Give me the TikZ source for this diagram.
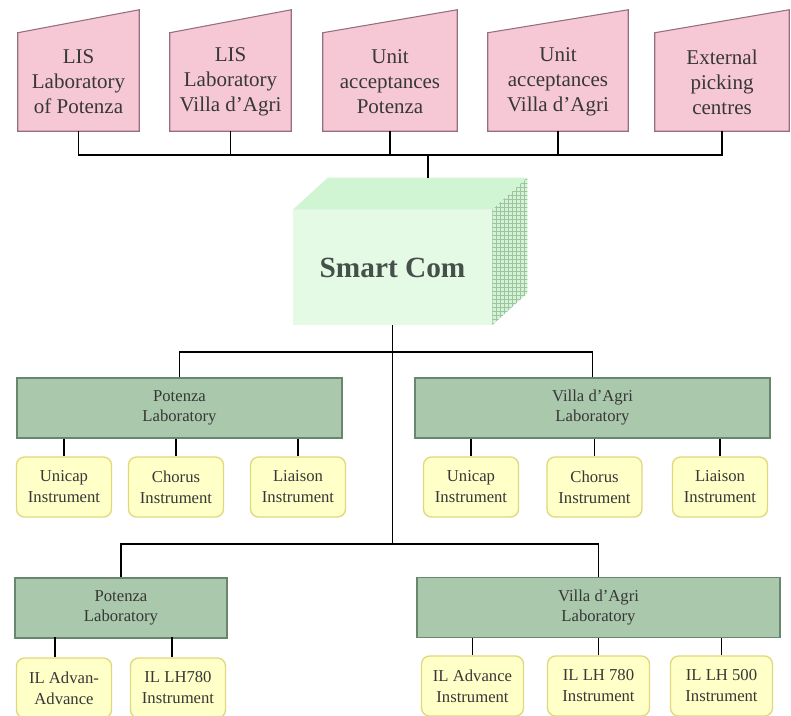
\documentclass[tikz,border=0pt]{standalone}
\usepackage{fontspec}
\setmainfont{Liberation Serif}
\usetikzlibrary{calc,backgrounds,patterns}

\definecolor{pinkfill}{RGB}{246,200,214}
\definecolor{pinkline}{RGB}{150,110,125}
\definecolor{labfill}{RGB}{170,200,172}
\definecolor{labline}{RGB}{105,135,110}
\definecolor{instrfill}{RGB}{255,255,200}
\definecolor{instrline}{RGB}{225,215,125}
\definecolor{cubefront}{RGB}{228,250,228}
\definecolor{cubetopc}{RGB}{208,245,210}
\definecolor{cubeside}{RGB}{215,240,215}
\definecolor{textgray}{RGB}{55,55,55}

\begin{document}
\begin{tikzpicture}[x=0.75pt,y=-0.75pt,
  source/.style={minimum width=90.75pt, minimum height=73.5pt, inner sep=0pt, align=center, text=textgray, font=\fontsize{15.75}{18.75}\selectfont},
  lab/.style={draw=labline, fill=labfill, line width=0.8pt, minimum height=45pt, inner sep=0pt, align=center, text=textgray, font=\fontsize{12.5}{15}\selectfont},
  instr/.style={draw=instrline, fill=instrfill, line width=1pt, rounded corners=6pt, minimum width=71.25pt, minimum height=45pt, inner sep=0pt, align=center, text=textgray, font=\fontsize{12.5}{15.75}\selectfont},
  wire/.style={line width=1.1pt}]

\useasboundingbox (0,0) rectangle (791,715);

% Sources
\node[source] (lisp) at (78.5,82) {LIS\\Laboratory\\of Potenza};
\node[source] (lisv) at (230.5,82) {LIS\\Laboratory\\Villa d'Agri};
\node[source, minimum width=100.5pt] (uap) at (390,82) {Unit\\acceptances\\Potenza};
\node[source, minimum width=105pt] (uav) at (558,82) {Unit\\acceptances\\Villa d'Agri};
\node[source, minimum width=100.5pt] (epc) at (722,82) {External\\picking\\centres};

\begin{scope}[on background layer]
\foreach \n in {lisp,lisv,uap,uav,epc}
  \filldraw[draw=pinkline, fill=pinkfill, line width=0.8pt] (\n.south west) -- (\n.south east) -- ($(\n.north east)+(0,-23)$) -- (\n.north west) -- cycle;
\end{scope}

% Smart Com
\node[fill=cubefront, minimum width=149.25pt, minimum height=86.25pt, inner sep=0pt, text={rgb,255:red,70;green,80;blue,75}, font=\fontsize{22}{26}\selectfont\bfseries] (smart) at (392.5,267.5) {Smart Com};
\fill[cubetopc] (smart.north west) -- ($(smart.north west)+(35,-32)$) -- ($(smart.north east)+(35,-32)$) -- (smart.north east) -- cycle;
\fill[cubeside] (smart.north east) -- ($(smart.north east)+(35,-32)$) -- ($(smart.south east)+(35,-32)$) -- (smart.south east) -- cycle;
\fill[pattern=grid, pattern color={rgb,255:red,150;green,200;blue,155}] (smart.north east) -- ($(smart.north east)+(35,-32)$) -- ($(smart.south east)+(35,-32)$) -- (smart.south east) -- cycle;

% Laboratories
\node[lab, minimum width=243.75pt] (potlab1) at (179.5,408) {Potenza\\Laboratory};
\node[lab, minimum width=266.25pt] (villab1) at (592.5,408) {Villa d'Agri\\Laboratory};
\node[lab, minimum width=159pt] (potlab2) at (121,608) {Potenza\\Laboratory};
\node[lab, minimum width=272.25pt] (villab2) at (598.5,607.5) {Villa d'Agri\\Laboratory};

% Instruments
\node[instr] (uni1) at (64,487) {Unicap\\Instrument};
\node[instr] (cho1) at (176,487) {Chorus\\Instrument};
\node[instr] (lia1) at (298,487) {Liaison\\Instrument};
\node[instr] (uni2) at (471,487) {Unicap\\Instrument};
\node[instr] (cho2) at (594.5,487) {Chorus\\Instrument};
\node[instr] (lia2) at (720,487) {Liaison\\Instrument};

\node[instr] (ila) at (64,688) {IL Advan-\\Advance};
\node[instr] (ilh) at (178,688) {IL LH780\\Instrument};
\node[instr, minimum width=76.5pt] (iva) at (472.5,686) {IL Advance\\Instrument};
\node[instr, minimum width=76.5pt] (ivh) at (598.5,686) {IL LH 780\\Instrument};
\node[instr, minimum width=76.5pt] (ivf) at (721.5,686) {IL LH 500\\Instrument};

% Connectors
\coordinate (topbus) at (428,155);
\coordinate (cubetop) at (428,178);
\coordinate (upbus) at (392.5,352);
\coordinate (lowbus) at (392.5,544);

\draw[wire] (lisp.south) |- (topbus) -| (epc.south);
\foreach \n in {lisv,uap,uav}
  \draw[wire] (\n.south) -- (\n.south |- topbus);
\draw[wire] (topbus) -- (cubetop);

\draw[wire] (smart.south) -- (lowbus);
\draw[wire] (potlab1.north) |- (upbus) -| (villab1.north);
\draw[wire] (potlab2.north) |- (lowbus) -| (villab2.north);

\foreach \n in {uni1,cho1,lia1}
  \draw[wire] (\n.north) -- (\n.north |- potlab1.south);
\foreach \n in {uni2,cho2,lia2}
  \draw[wire] (\n.north) -- (\n.north |- villab1.south);
\foreach \n in {iva,ivh,ivf}
  \draw[wire] (\n.north) -- (\n.north |- villab2.south);
\draw[wire] (ila.north) ++(-9,0) -- ++(0,-20);
\draw[wire] (ilh.north) ++(-6,0) -- ++(0,-20);

\end{tikzpicture}
\end{document}
